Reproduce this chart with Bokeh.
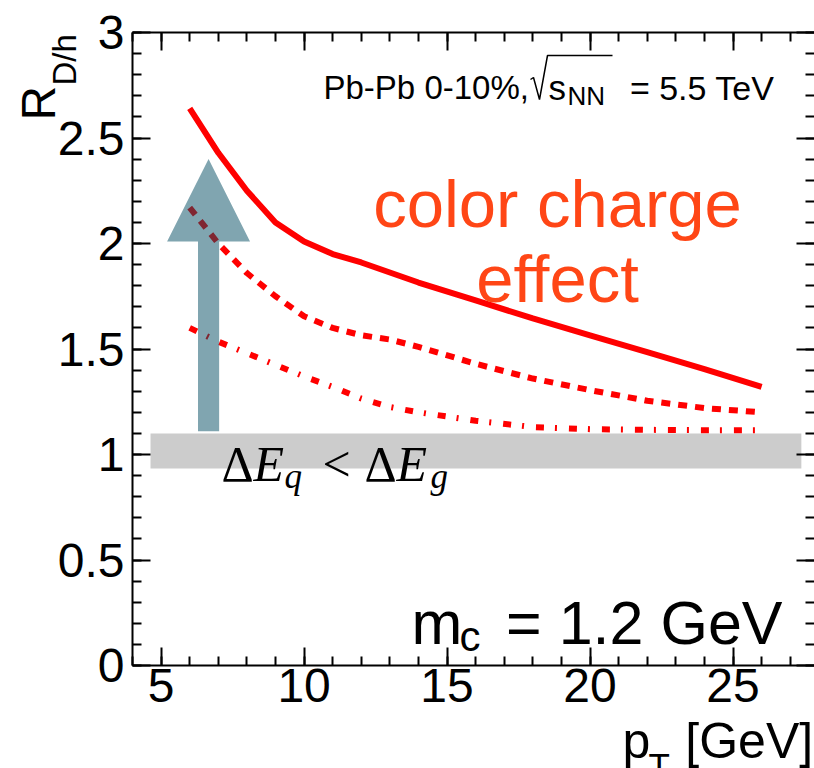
from bokeh.plotting import figure
from bokeh.models import LinearAxis, FixedTicker, Label, Range1d, Title
from bokeh.embed import file_html
from bokeh.resources import INLINE

# ---------------- data ----------------
pt_solid = [6, 7, 8, 9, 10, 11, 12, 14, 16, 18, 20, 22, 24, 26]
r_solid = [2.64, 2.43, 2.25, 2.10, 2.01, 1.95, 1.91, 1.815, 1.73, 1.645, 1.565, 1.485, 1.405, 1.32]

pt_dash = [6, 7, 8, 9, 10, 11, 12, 13, 14, 16, 18, 20, 22, 24, 26]
r_dash = [2.17, 2.00, 1.86, 1.75, 1.655, 1.60, 1.565, 1.545, 1.51, 1.43, 1.36, 1.305, 1.255, 1.22, 1.20]

pt_dashdot = [6, 7, 8, 9, 10, 11, 12, 13, 14, 16, 18, 20, 22, 24, 26]
r_dashdot = [1.60, 1.535, 1.48, 1.425, 1.37, 1.32, 1.265, 1.225, 1.20, 1.16, 1.13, 1.12, 1.117, 1.115, 1.115]

band_x = [4.63, 27.39]
band_y = [0.934, 1.10]

arrow_x = 6.66
arrow_y = [1.11, 2.01, 2.40]      # shaft bottom, head base, tip
arrow_half = [0.37, 1.45]         # shaft half width, head half width

x_major = [5, 10, 15, 20, 25]
x_labels = ["5", "10", "15", "20", "25"]
x_minor = list(range(4, 28))
y_major = [0, 0.5, 1, 1.5, 2, 2.5, 3]
y_labels = ["0", "0.5", "1", "1.5", "2", "2.5", "3"]
y_minor = [round(0.1 * i, 1) for i in range(31)]

X0, X1 = 4.0, 27.85
Y0, Y1 = 0.0, 3.0

# frame placement in pixels
FL, FR, FT, FB = 132, 814, 32, 665
W, H = 814, 768


def dx(px):
    return X0 + (px - FL) * (X1 - X0) / (FR - FL)


def dy(py):
    return Y1 - (py - FT) * (Y1 - Y0) / (FB - FT)


p = figure(width=W, height=H, x_range=Range1d(X0, X1), y_range=Range1d(Y0, Y1),
           output_backend="svg", toolbar_location=None,
           min_border_left=FL, min_border_right=0, min_border_top=FT,
           min_border_bottom=H - FB,
           x_axis_location=None, y_axis_location=None)
p.grid.visible = False
p.outline_line_color = None
p.background_fill_color = "white"
p.border_fill_color = "white"

FONT = "Liberation Sans"


def make_axis(ticks, minor, labels):
    ax = LinearAxis(ticker=FixedTicker(ticks=ticks, minor_ticks=minor))
    ax.major_tick_in = 18
    ax.major_tick_out = 0
    ax.minor_tick_in = 9
    ax.minor_tick_out = 0
    ax.major_tick_line_width = 2
    ax.minor_tick_line_width = 2
    ax.axis_line_width = 2
    ax.major_tick_line_color = "black"
    ax.minor_tick_line_color = "black"
    ax.axis_line_color = "black"
    if labels is not None:
        ax.major_label_overrides = {t: l for t, l in zip(ticks, labels)}
        ax.major_label_text_font = FONT
        ax.major_label_text_font_size = "48px"
        ax.major_label_text_color = "black"
        ax.major_label_standoff = 8
    else:
        ax.major_label_overrides = {t: "" for t in ticks}
        ax.major_label_text_font_size = "0px"
        ax.major_label_standoff = 0
    return ax


left = make_axis(y_major, y_minor, y_labels)
right = make_axis(y_major, y_minor, None)
right.axis_line_color = None
bottom = make_axis(x_major, x_minor, x_labels)
bottom.major_label_standoff = 3
top = make_axis(x_major, x_minor, None)
p.add_layout(left, "left")
p.add_layout(right, "right")
p.add_layout(bottom, "below")
p.add_layout(top, "above")


def title(text, size, align, offset, valign, standoff, style="normal"):
    return Title(text=text, align=align, offset=offset, vertical_align=valign,
                 standoff=standoff, text_font=FONT, text_font_size=f"{size}px",
                 text_font_style=style, text_color="black")


# axis titles (side panels, so they are not clipped to the frame)
p.add_layout(title("D/h", 33, "left", 580, "bottom", -56), "left")
p.add_layout(title("R", 48, "left", 545, "top", -86), "left")
p.add_layout(title("p\u2002\u2009[GeV]", 50, "left", 490, "bottom", -129), "below")
p.add_layout(title("T", 35, "left", 516, "bottom", -161), "below")

# grey band at R = 1
p.quad(left=band_x[0], right=band_x[1], bottom=band_y[0], top=band_y[1],
       fill_color="#cccccc", line_color=None)

# curves
p.line(pt_solid, r_solid, line_color="#ff0000", line_width=6)
p.line(pt_dash, r_dash, line_color="#ff0000", line_width=6, line_dash="9 8")
p.line(pt_dashdot, r_dashdot, line_color="#ff0000", line_width=6, line_dash="8 11 2 12")

# translucent arrow
ax_ = arrow_x
sh, hh = arrow_half
yb, yh, yt = arrow_y
p.patch([ax_ - sh, ax_ + sh, ax_ + sh, ax_ + hh, ax_, ax_ - hh, ax_ - sh],
        [yb, yb, yh, yh, yt, yh, yh],
        fill_color="#014b61", fill_alpha=0.5, line_color=None)

# radical sign for sqrt(s_NN)
p.line([dx(530), dx(533), dx(539), dx(547), dx(612)],
       [dy(79), dy(77), dy(99), dy(55), dy(55)], line_color="black", line_width=1.5)


def lab(px, py, text, size, font=FONT, style="normal", color="black",
        align="left", angle=0.0):
    p.add_layout(Label(x=dx(px), y=dy(py), text=text, text_font=font,
                       text_font_size=f"{size}px", text_font_style=style,
                       text_color=color, text_align=align,
                       text_baseline="alphabetic", angle=angle))


# header
lab(323, 87, "Pb-Pb 0-10%,", 33)
lab(548, 87, "s", 35)
lab(567, 95, "NN", 26)
lab(774, 87, "= 5.5 TeV", 34, align="right")

# colour charge effect
orange = "#ff4616"
lab(557, 203, "color charge", 67, color=orange, align="center")
lab(557, 278, "effect", 67, color=orange, align="center")

# Delta E_q < Delta E_g
serif = "Liberation Serif"
lab(221, 463, "Δ", 50, font=serif)
lab(253, 463, "E", 50, font=serif, style="italic")
lab(284, 476, "q", 35, font=serif, style="italic")
lab(322, 463, "<", 50, font=serif)
lab(364, 463, "Δ", 50, font=serif)
lab(396, 463, "E", 50, font=serif, style="italic")
lab(430, 476, "g", 35, font=serif, style="italic")

# m_c = 1.2 GeV
lab(411, 622, "m", 61)
lab(459, 636, "c", 42)
lab(782, 622, "= 1.2 GeV", 61, align="right")

open("out.html", "w").write(file_html(p, INLINE))
